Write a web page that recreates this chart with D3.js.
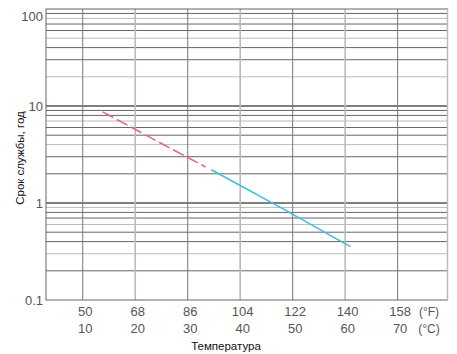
<!DOCTYPE html>
<html>
<head>
<meta charset="utf-8">
<script src="https://cdn.jsdelivr.net/npm/d3@7"></script>
<style>
  body { margin: 0; background: #fff; }
  text { font-family: "Liberation Sans", Arial, sans-serif; }
</style>
</head>
<body>
<script>
// data
var celsiusTicks = [10, 20, 30, 40, 50, 60, 70];
var fahrenheitTicks = ["50", "68", "86", "104", "122", "140", "158"];
var lifeTicks = [0.1, 1, 10, 100];
// life (years) vs temperature (°C)
var pinkPart = [[13.8, 8.7], [25, 4.1], [33.4, 2.35]];
var bluePart = [[34.5, 2.2], [48, 0.88], [61, 0.355]];

var w = 457, h = 354;
// "top" is taken by window.top, so plot edges get their own names
var plotL = 46, plotR = 447.5, plotT = 9, plotB = 300;

var svg = d3.select("body").append("svg")
    .attr("width", w)
    .attr("height", h);

var x = d3.scaleLinear().domain([3, 79.5]).range([plotL, plotR]);
var y = d3.scaleLog().domain([0.1, 100]).range([plotB, plotT]);

// horizontal grid (log minor lines)
var minor = [];
[0.1, 1, 10].forEach(function(d) {
  for (var k = 2; k <= 9; k++) minor.push(d * k);
});
svg.append("g").selectAll("line")
  .data(minor)
  .enter().append("line")
  .attr("x1", plotL).attr("x2", plotR)
  .attr("y1", function(d) { return y(d); })
  .attr("y2", function(d) { return y(d); })
  .attr("stroke", function(d, i) { return i % 3 == 1 ? "#bbb" : "#666"; })
  .attr("stroke-width", 1);

svg.append("g").selectAll("line")
  .data([1, 10])
  .enter().append("line")
  .attr("x1", plotL).attr("x2", plotR)
  .attr("y1", function(d) { return y(d); })
  .attr("y2", function(d) { return y(d); })
  .attr("stroke", "#555")
  .attr("stroke-width", 1.6);

// vertical grid
svg.append("g").selectAll("line")
  .data(celsiusTicks)
  .enter().append("line")
  .attr("x1", function(d) { return x(d); })
  .attr("x2", function(d) { return x(d); })
  .attr("y1", plotT).attr("y2", plotB)
  .attr("stroke", function(d, i) { return i % 2 == 0 ? "#777" : "#bbb"; })
  .attr("stroke-width", function(d, i) { return i % 2 == 0 ? 1 : 1.6; });

// frame
svg.append("rect")
  .attr("x", plotL).attr("y", plotT)
  .attr("width", plotR - plotL).attr("height", plotB - plotT)
  .attr("fill", "none")
  .attr("stroke", "#666")
  .attr("stroke-width", 1);
svg.append("line")
  .attr("x1", plotR).attr("x2", plotR).attr("y1", plotT).attr("y2", plotB)
  .attr("stroke", "#bbb").attr("stroke-width", 1.5);

// y labels
svg.append("g").selectAll("text")
  .data(lifeTicks)
  .enter().append("text")
  .attr("x", 43)
  .attr("y", function(d) { return Math.max(y(d), 16); })
  .attr("dy", "0.35em")
  .attr("text-anchor", "end")
  .attr("font-size", "13px")
  .attr("fill", "#555")
  .text(function(d) { return d; });

// x labels, two rows
svg.append("g").selectAll("text")
  .data(fahrenheitTicks)
  .enter().append("text")
  .attr("x", function(d, i) { return x(celsiusTicks[i]) + 2.5; })
  .attr("y", 316)
  .attr("text-anchor", "middle")
  .attr("font-size", "13px")
  .attr("fill", "#555")
  .text(function(d) { return d; });
svg.append("g").selectAll("text")
  .data(celsiusTicks)
  .enter().append("text")
  .attr("x", function(d) { return x(d) + 2.5; })
  .attr("y", 333)
  .attr("text-anchor", "middle")
  .attr("font-size", "13px")
  .attr("fill", "#555")
  .text(function(d) { return d; });

svg.append("text").attr("x", 429).attr("y", 316)
  .attr("text-anchor", "middle").attr("font-size", "12px").attr("fill", "#555")
  .text("(°F)");
svg.append("text").attr("x", 429).attr("y", 333)
  .attr("text-anchor", "middle").attr("font-size", "12px").attr("fill", "#555")
  .text("(°C)");

// axis titles
svg.append("text")
  .attr("x", 226).attr("y", 350)
  .attr("text-anchor", "middle")
  .attr("font-size", "11.5px")
  .attr("fill", "#111")
  .text("Температура");
svg.append("text")
  .attr("transform", "translate(24,158) rotate(-90)")
  .attr("text-anchor", "middle")
  .attr("font-size", "11.5px")
  .attr("fill", "#111")
  .text("Срок службы, год");

// the life line
var line = d3.line()
  .x(function(d) { return x(d[0]); })
  .y(function(d) { return y(d[1]); });

svg.append("path")
  .datum(pinkPart)
  .attr("d", line)
  .attr("fill", "none")
  .attr("stroke", "#e8609e")
  .attr("stroke-width", 1.6)
  .attr("stroke-dasharray", "12,4");

svg.append("path")
  .datum(bluePart)
  .attr("d", line)
  .attr("fill", "none")
  .attr("stroke", "#3cbfe0")
  .attr("stroke-width", 1.6);
</script>
</body>
</html>
